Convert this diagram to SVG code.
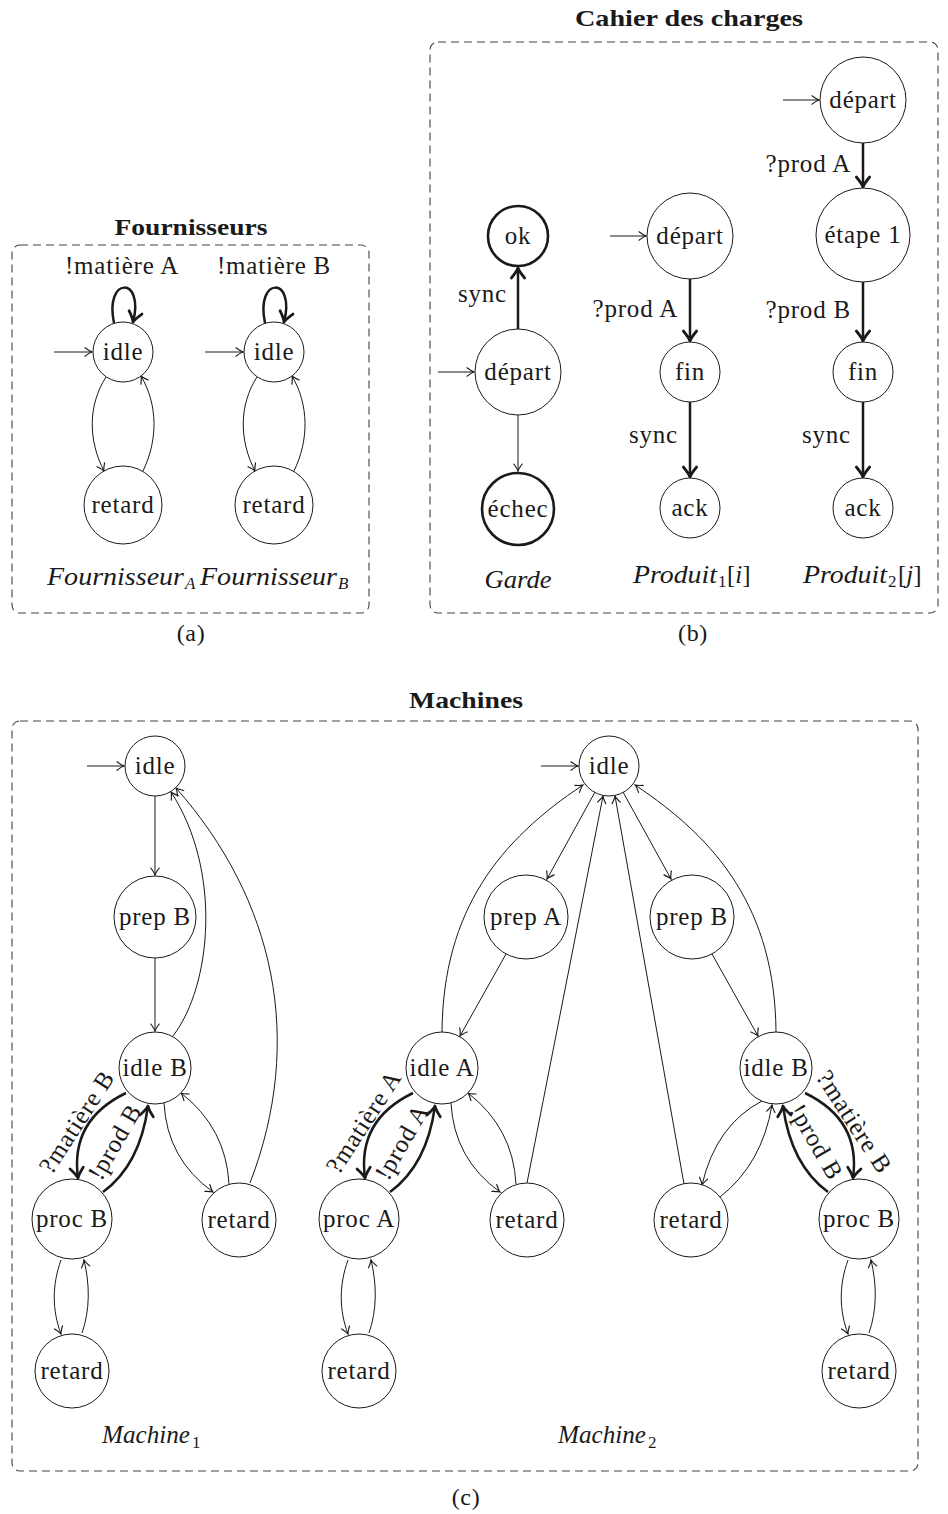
<svg xmlns="http://www.w3.org/2000/svg" width="948" height="1514" viewBox="0 0 948 1514">
  <style>
    .n { fill: #fff; stroke: #1a1a1a; stroke-width: 1; }
    .nb { fill: #fff; stroke: #1a1a1a; stroke-width: 2.6; }
    .t { font-family: "Liberation Serif", "DejaVu Serif", serif; font-size: 25px; letter-spacing: 0.8px; fill: #1a1a1a; text-anchor: middle; }
    .l { font-family: "Liberation Serif", "DejaVu Serif", serif; font-size: 25px; letter-spacing: 0.8px; fill: #1a1a1a; text-anchor: end; }
    .it { font-family: "Liberation Serif", "DejaVu Serif", serif; font-size: 25px; font-style: italic; fill: #1a1a1a; }
    .sub { font-family: "Liberation Serif", "DejaVu Serif", serif; font-size: 17px; fill: #1a1a1a; }
    .ttl { font-family: "Liberation Serif", "DejaVu Serif", serif; font-size: 23px; font-weight: bold; fill: #1a1a1a; text-anchor: middle; }
    .cap { font-family: "Liberation Serif", "DejaVu Serif", serif; font-size: 24px; letter-spacing: 0.6px; fill: #1a1a1a; text-anchor: middle; }
    .box { fill: none; stroke: #444; stroke-width: 1.1; stroke-dasharray: 8 5; }
    .e { fill: none; stroke: #1a1a1a; stroke-width: 1; marker-end: url(#thin); }
    .E { fill: none; stroke: #1a1a1a; stroke-width: 2.5; marker-end: url(#thick); }
  </style>
  <defs>
    <marker id="thin" markerUnits="userSpaceOnUse" markerWidth="14" markerHeight="14" viewBox="-8 -6 10 12" refX="0" refY="0" orient="auto" overflow="visible">
      <path d="M-6,-3.6 Q-2,-0.6 0,0 Q-2,0.6 -6,3.6" fill="none" stroke="#1a1a1a" stroke-width="1" stroke-linecap="round"/>
    </marker>
    <marker id="thick" markerUnits="userSpaceOnUse" markerWidth="20" markerHeight="20" viewBox="-12 -9 14 18" refX="0" refY="0" orient="auto" overflow="visible">
      <path d="M-9,-6 Q-3,-1 0,0 Q-3,1 -9,6" fill="none" stroke="#1a1a1a" stroke-width="2.5" stroke-linecap="round" stroke-linejoin="round"/>
    </marker>
  </defs>

  <!-- ===== (a) Fournisseurs ===== -->
  <text class="ttl" x="191" y="235" textLength="153" lengthAdjust="spacingAndGlyphs">Fournisseurs</text>
  <rect class="box" x="12" y="245" width="357" height="368" rx="8"/>

  <g id="connectors-a">
    <path class="e" d="M54,352 L92,352"/>
    <path class="E" d="M114,323 C104,276 145,276 133,322"/>
    <path class="e" d="M106,377 C88,405 88,440 104,471"/>
    <path class="e" d="M143,471 C158,440 158,405 141,376"/>
    <path class="e" d="M205,352 L243,352"/>
    <path class="E" d="M265,323 C255,276 296,276 284,322"/>
    <path class="e" d="M257,377 C239,405 239,440 255,471"/>
    <path class="e" d="M294,471 C309,440 309,405 292,376"/>
  </g>
  <text class="t" x="122" y="274">!matière A</text>
  <text class="t" x="274" y="274">!matière B</text>

  <g id="fa-idle"><circle class="n" cx="123" cy="352" r="30"/><text class="t" x="123" y="360">idle</text></g>
  <g id="fa-retard"><circle class="n" cx="123" cy="505" r="39"/><text class="t" x="123" y="513">retard</text></g>
  <g id="fb-idle"><circle class="n" cx="274" cy="352" r="30"/><text class="t" x="274" y="360">idle</text></g>
  <g id="fb-retard"><circle class="n" cx="274" cy="505" r="39"/><text class="t" x="274" y="513">retard</text></g>

  <text class="it" x="47" y="585" textLength="137" lengthAdjust="spacingAndGlyphs">Fournisseur</text>
  <text class="sub" x="185" y="589" font-style="italic">A</text>
  <text class="it" x="200" y="585" textLength="137" lengthAdjust="spacingAndGlyphs">Fournisseur</text>
  <text class="sub" x="338" y="589" font-style="italic">B</text>
  <text class="cap" x="191" y="641">(a)</text>

  <!-- ===== (b) Cahier des charges ===== -->
  <text class="ttl" x="689" y="26" textLength="228" lengthAdjust="spacingAndGlyphs">Cahier des charges</text>
  <rect class="box" x="430" y="42" width="508" height="571" rx="8"/>

  <g id="connectors-b">
    <path class="e" d="M438,372 L474,372"/>
    <path class="E" d="M518,329 L518,268"/>
    <path class="e" d="M518,415 L518,471"/>
    <path class="e" d="M610,236 L646,236"/>
    <path class="E" d="M690,279 L690,341"/>
    <path class="E" d="M690,402 L690,477"/>
    <path class="e" d="M783,100 L819,100"/>
    <path class="E" d="M863,143 L863,187"/>
    <path class="E" d="M863,282 L863,341"/>
    <path class="E" d="M863,402 L863,477"/>
  </g>
  <text class="l" x="507" y="302">sync</text>
  <text class="l" x="678" y="317">?prod A</text>
  <text class="l" x="678" y="443">sync</text>
  <text class="l" x="851" y="172">?prod A</text>
  <text class="l" x="851" y="318">?prod B</text>
  <text class="l" x="851" y="443">sync</text>

  <g id="garde-ok"><circle class="nb" cx="518" cy="236" r="30"/><text class="t" x="518" y="244">ok</text></g>
  <g id="garde-depart"><circle class="n" cx="518" cy="372" r="43"/><text class="t" x="518" y="380">départ</text></g>
  <g id="garde-echec"><circle class="nb" cx="518" cy="509" r="36"/><text class="t" x="518" y="517">échec</text></g>

  <g id="p1-depart"><circle class="n" cx="690" cy="236" r="43"/><text class="t" x="690" y="244">départ</text></g>
  <g id="p1-fin"><circle class="n" cx="690" cy="372" r="30"/><text class="t" x="690" y="380">fin</text></g>
  <g id="p1-ack"><circle class="n" cx="690" cy="508" r="30"/><text class="t" x="690" y="516">ack</text></g>

  <g id="p2-depart"><circle class="n" cx="863" cy="100" r="43"/><text class="t" x="863" y="108">départ</text></g>
  <g id="p2-etape1"><circle class="n" cx="863" cy="235" r="47"/><text class="t" x="863" y="243">étape 1</text></g>
  <g id="p2-fin"><circle class="n" cx="863" cy="372" r="30"/><text class="t" x="863" y="380">fin</text></g>
  <g id="p2-ack"><circle class="n" cx="863" cy="508" r="30"/><text class="t" x="863" y="516">ack</text></g>

  <text class="it" x="518" y="588" text-anchor="middle" textLength="67" lengthAdjust="spacingAndGlyphs">Garde</text>
  <text class="it" x="633" y="583" textLength="84" lengthAdjust="spacingAndGlyphs">Produit</text>
  <text class="sub" x="718" y="587">1</text>
  <text class="it" x="727" y="583"><tspan font-style="normal">[</tspan>i<tspan font-style="normal">]</tspan></text>
  <text class="it" x="803" y="583" textLength="84" lengthAdjust="spacingAndGlyphs">Produit</text>
  <text class="sub" x="888" y="587">2</text>
  <text class="it" x="898" y="583"><tspan font-style="normal">[</tspan>j<tspan font-style="normal">]</tspan></text>
  <text class="cap" x="693" y="641">(b)</text>

  <!-- ===== (c) Machines ===== -->
  <text class="ttl" x="466" y="708" textLength="114" lengthAdjust="spacingAndGlyphs">Machines</text>
  <rect class="box" x="12" y="721" width="906" height="750" rx="8"/>

  <g id="connectors-c">
    <!-- Machine 1 -->
    <path class="e" d="M87,766 L124,766"/>
    <path class="e" d="M155,796 L155,875"/>
    <path class="e" d="M155,958 L155,1031"/>
    <path class="e" d="M173,1036 C212,985 222,870 171,792"/>
    <path class="e" d="M250,1183 C305,1040 275,900 176,788"/>
    <path class="E" d="M126,1093 Q70,1120 78,1178"/>
    <path class="E" d="M103,1192 Q140,1165 148,1106"/>
    <path class="e" d="M164,1103 Q167,1159 213,1192"/>
    <path class="e" d="M229,1184 Q226,1128 181,1093"/>
    <path class="e" d="M61,1260 C52,1285 52,1310 61,1334"/>
    <path class="e" d="M82,1333 C90,1310 90,1285 84,1260"/>

    <!-- Machine 2 -->
    <path class="e" d="M541,766 L578,766"/>
    <path class="e" d="M595,792 L547,879"/>
    <path class="e" d="M623,792 L671,879"/>
    <path class="e" d="M506,954 L460,1036"/>
    <path class="e" d="M712,954 L758,1036"/>
    <path class="e" d="M442,1032 C443,910 500,840 583,785"/>
    <path class="e" d="M776,1032 C775,910 718,840 635,785"/>
    <path class="e" d="M527,1183 L603,796"/>
    <path class="e" d="M684,1184 L615,796"/>
    <path class="E" d="M413,1093 Q357,1120 365,1178"/>
    <path class="E" d="M390,1192 Q427,1165 435,1106"/>
    <path class="e" d="M451,1103 Q454,1159 500,1192"/>
    <path class="e" d="M516,1184 Q513,1128 468,1093"/>
    <path class="e" d="M348,1260 C339,1285 339,1310 348,1334"/>
    <path class="e" d="M369,1333 C377,1310 377,1285 371,1260"/>
    <path class="E" d="M805,1093 Q861,1120 853,1178"/>
    <path class="E" d="M828,1192 Q791,1165 783,1106"/>
    <path class="e" d="M762,1101 Q716,1125 702,1185"/>
    <path class="e" d="M720,1197 Q762,1164 772,1105"/>
    <path class="e" d="M848,1260 C839,1285 839,1310 848,1334"/>
    <path class="e" d="M869,1333 C877,1310 877,1285 871,1260"/>
  </g>

  <!-- transition labels -->
  <text class="t" transform="translate(77,1122) rotate(-57)" y="8">?matière B</text>
  <text class="t" transform="translate(115,1142) rotate(-60)" y="8">!prod B</text>
  <text class="t" transform="translate(364,1122) rotate(-57)" y="8">?matière A</text>
  <text class="t" transform="translate(402,1142) rotate(-60)" y="8">!prod A</text>
  <text class="t" transform="translate(854,1122) rotate(57)" y="8">?matière B</text>
  <text class="t" transform="translate(816,1142) rotate(60)" y="8">!prod B</text>

  <!-- Machine 1 states -->
  <g id="m1-idle"><circle class="n" cx="155" cy="766" r="30"/><text class="t" x="155" y="774">idle</text></g>
  <g id="m1-prepB"><circle class="n" cx="155" cy="917" r="41"/><text class="t" x="155" y="925">prep B</text></g>
  <g id="m1-idleB"><circle class="n" cx="155" cy="1068" r="36"/><text class="t" x="155" y="1076">idle B</text></g>
  <g id="m1-procB"><circle class="n" cx="72" cy="1219" r="40"/><text class="t" x="72" y="1227">proc B</text></g>
  <g id="m1-retard1"><circle class="n" cx="239" cy="1220" r="37"/><text class="t" x="239" y="1228">retard</text></g>
  <g id="m1-retard2"><circle class="n" cx="72" cy="1371" r="37"/><text class="t" x="72" y="1379">retard</text></g>

  <!-- Machine 2 states -->
  <g id="m2-idle"><circle class="n" cx="609" cy="766" r="30"/><text class="t" x="609" y="774">idle</text></g>
  <g id="m2-prepA"><circle class="n" cx="526" cy="917" r="42"/><text class="t" x="526" y="925">prep A</text></g>
  <g id="m2-prepB"><circle class="n" cx="692" cy="917" r="42"/><text class="t" x="692" y="925">prep B</text></g>
  <g id="m2-idleA"><circle class="n" cx="442" cy="1068" r="36"/><text class="t" x="442" y="1076">idle A</text></g>
  <g id="m2-idleB"><circle class="n" cx="776" cy="1068" r="36"/><text class="t" x="776" y="1076">idle B</text></g>
  <g id="m2-procA"><circle class="n" cx="359" cy="1219" r="40"/><text class="t" x="359" y="1227">proc A</text></g>
  <g id="m2-retardA"><circle class="n" cx="527" cy="1220" r="37"/><text class="t" x="527" y="1228">retard</text></g>
  <g id="m2-retardB"><circle class="n" cx="691" cy="1220" r="37"/><text class="t" x="691" y="1228">retard</text></g>
  <g id="m2-procB"><circle class="n" cx="859" cy="1219" r="40"/><text class="t" x="859" y="1227">proc B</text></g>
  <g id="m2-retardA2"><circle class="n" cx="359" cy="1371" r="37"/><text class="t" x="359" y="1379">retard</text></g>
  <g id="m2-retardB2"><circle class="n" cx="859" cy="1371" r="37"/><text class="t" x="859" y="1379">retard</text></g>

  <text class="it" x="102" y="1443" textLength="88" lengthAdjust="spacingAndGlyphs">Machine</text>
  <text class="sub" x="192" y="1448">1</text>
  <text class="it" x="558" y="1443" textLength="88" lengthAdjust="spacingAndGlyphs">Machine</text>
  <text class="sub" x="648" y="1448">2</text>
  <text class="cap" x="466" y="1505">(c)</text>
</svg>
